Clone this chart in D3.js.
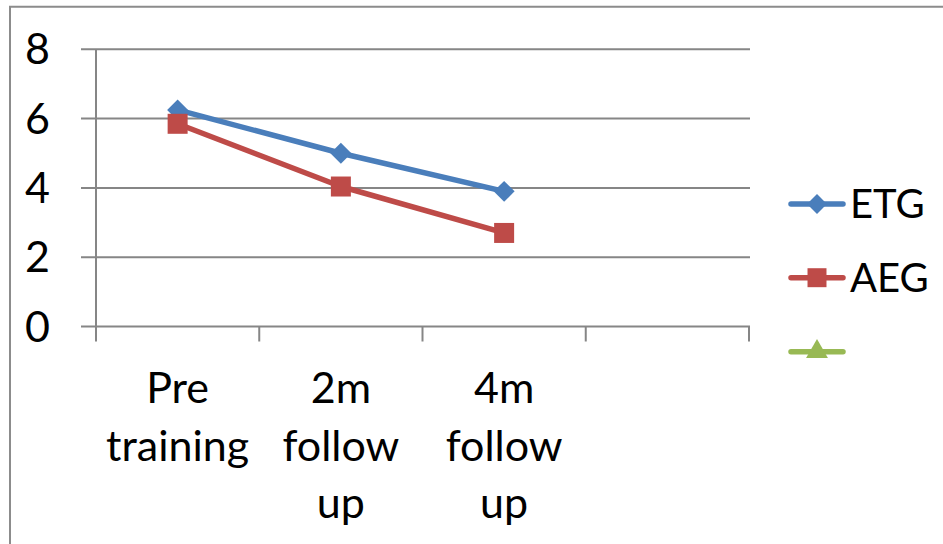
<!DOCTYPE html>
<html><head><meta charset="utf-8">
<script src="https://cdn.jsdelivr.net/npm/d3@7"></script>
<style>
html,body{margin:0;padding:0;background:#fff;overflow:hidden}
svg{display:block}
</style></head>
<body><svg id="c" width="943" height="544"></svg>
<script>
const categories = [["Pre","training"],["2m","follow","up"],["4m","follow","up"],[""]];
const seriesNames = ["ETG","AEG",""];
const etg = [6.25, 5.0, 3.9];
const aeg = [5.85, 4.04, 2.7];
const third = [];
const yTicks = [0,2,4,6,8];

const colors = ["#4a7ebb","#be4b48","#98b954"];
const font = "Lato, 'Open Sans', sans-serif";

const svg = d3.select("#c");
const L = 96, R = 749, T = 49.3, B = 326.5;

// outer frame
svg.append("path").attr("d","M10,544 L10,6.7 L943,6.7")
  .attr("fill","none").attr("stroke","#8c8c8c").attr("stroke-width",2);

const x = d3.scaleBand().domain(d3.range(categories.length)).range([L,R]).padding(0);
const y = d3.scaleLinear().domain([0,8]).range([B,T]);

// gridlines
svg.append("g").selectAll("line").data(yTicks).join("line")
  .attr("x1",L-15).attr("x2",R+1).attr("y1",d=>y(d)).attr("y2",d=>y(d))
  .attr("stroke","#868686").attr("stroke-width",2);

// y axis line
svg.append("line").attr("x1",L).attr("x2",L).attr("y1",T).attr("y2",B+15)
  .attr("stroke","#868686").attr("stroke-width",2);

// x ticks
const xt = d3.range(categories.length+1).map(i => i<categories.length ? x(i) : x(categories.length-1)+x.bandwidth());
svg.append("g").selectAll("line").data(xt.slice(1)).join("line")
  .attr("x1",d=>d).attr("x2",d=>d).attr("y1",B).attr("y2",B+15)
  .attr("stroke","#868686").attr("stroke-width",2);

// y labels
svg.append("g").selectAll("text").data(yTicks).join("text")
  .attr("x",50).attr("y",d=>y(d)+15).attr("text-anchor","end")
  .attr("font-family",font).attr("font-size",43).attr("fill","#000").text(d=>d);

// x labels
categories.forEach((lines,i)=>{
  const t = svg.append("text").attr("text-anchor","middle")
    .attr("font-family",font).attr("font-size",43).attr("fill","#000");
  lines.forEach((s,j)=>{
    t.append("tspan").attr("x",x(i)+x.bandwidth()/2).attr("y",403+j*57.5).text(s);
  });
});

// square diamond symbol (equal width/height)
const squareDiamond = {
  draw(ctx, size){
    const r = Math.sqrt(size/2);
    ctx.moveTo(0,-r); ctx.lineTo(r,0); ctx.lineTo(0,r); ctx.lineTo(-r,0); ctx.closePath();
  }
};

const cx = i => x(i)+x.bandwidth()/2;
const line = d3.line().x((d,i)=>cx(i)).y(d=>y(d));
const data = [etg, aeg, third];
const symbols = [squareDiamond, d3.symbolSquare, d3.symbolTriangle];
const sizes = [220, 400, 230];

data.forEach((vals,k)=>{
  if(!vals.length) return;
  svg.append("path").datum(vals).attr("d",line).attr("fill","none")
    .attr("stroke",colors[k]).attr("stroke-width",5.5).attr("stroke-linejoin","round");
  svg.append("g").selectAll("path").data(vals).join("path")
    .attr("transform",(d,i)=>`translate(${cx(i)},${y(d)})`)
    .attr("d",d3.symbol().type(symbols[k]).size(sizes[k]))
    .attr("fill",colors[k]);
});

// legend
const legY = [204, 277.7, 351.7];
seriesNames.forEach((n,k)=>{
  const g = svg.append("g");
  g.append("line").attr("x1",791).attr("x2",843).attr("y1",legY[k]).attr("y2",legY[k])
    .attr("stroke",colors[k]).attr("stroke-width",5.5).attr("stroke-linecap","round");
  g.append("path").attr("transform",`translate(817,${legY[k]})`)
    .attr("d",d3.symbol().type(symbols[k]).size(sizes[k]*0.9)).attr("fill",colors[k]);
  g.append("text").attr("x",850).attr("y",legY[k]+14).attr("font-family",font)
    .attr("font-size",40).attr("fill","#000").text(n);
});
</script></body></html>
